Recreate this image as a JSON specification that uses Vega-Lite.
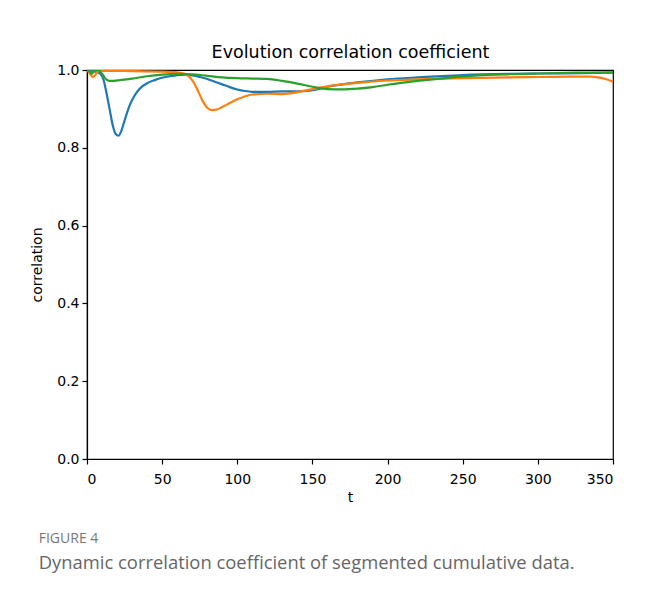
{
  "$schema": "https://vega.github.io/schema/vega-lite/v6.json",
  "width": 526,
  "height": 389,
  "autosize": "none",
  "padding": {"left": 87, "top": 70, "right": 33, "bottom": 133},
  "background": "white",
  "config": {
    "font": "DejaVu Sans",
    "view": {"stroke": "black", "strokeWidth": 1.2},
    "axis": {"grid": false, "domainColor": "black", "tickColor": "black", "labelColor": "black", "titleColor": "black", "labelFont": "DejaVu Sans", "titleFont": "DejaVu Sans", "labelFontSize": 14, "titleFontSize": 14, "titleFontWeight": "normal", "tickSize": 5, "domainWidth": 1.2, "tickWidth": 1.2}
  },
  "title": {
    "text": "FIGURE 4",
    "subtitle": "Dynamic correlation coefficient of segmented cumulative data.",
    "orient": "bottom",
    "anchor": "start",
    "frame": "bounds",
    "font": "Open Sans",
    "fontSize": 14,
    "fontWeight": "normal",
    "color": "#777777",
    "subtitleFont": "Open Sans",
    "subtitleFontSize": 18.4,
    "subtitleColor": "#666666",
    "subtitlePadding": 8,
    "offset": 28,
    "dx": 8
  },
  "data": {
    "values": [
      {"s": "a", "t": 0, "v": 1.0}, {"s": "a", "t": 3, "v": 0.998}, {"s": "a", "t": 6, "v": 0.995}, {"s": "a", "t": 9, "v": 0.99}, {"s": "a", "t": 11, "v": 0.975}, {"s": "a", "t": 13, "v": 0.94}, {"s": "a", "t": 15, "v": 0.9}, {"s": "a", "t": 17, "v": 0.86}, {"s": "a", "t": 19, "v": 0.836}, {"s": "a", "t": 21, "v": 0.831}, {"s": "a", "t": 23, "v": 0.845}, {"s": "a", "t": 25, "v": 0.87}, {"s": "a", "t": 28, "v": 0.905}, {"s": "a", "t": 31, "v": 0.93}, {"s": "a", "t": 35, "v": 0.952}, {"s": "a", "t": 40, "v": 0.966}, {"s": "a", "t": 45, "v": 0.974}, {"s": "a", "t": 50, "v": 0.98}, {"s": "a", "t": 55, "v": 0.984}, {"s": "a", "t": 60, "v": 0.987}, {"s": "a", "t": 65, "v": 0.988}, {"s": "a", "t": 70, "v": 0.986}, {"s": "a", "t": 75, "v": 0.982}, {"s": "a", "t": 80, "v": 0.977}, {"s": "a", "t": 85, "v": 0.97}, {"s": "a", "t": 90, "v": 0.963}, {"s": "a", "t": 95, "v": 0.956}, {"s": "a", "t": 100, "v": 0.95}, {"s": "a", "t": 105, "v": 0.946}, {"s": "a", "t": 110, "v": 0.944}, {"s": "a", "t": 120, "v": 0.944}, {"s": "a", "t": 130, "v": 0.945}, {"s": "a", "t": 140, "v": 0.945}, {"s": "a", "t": 148, "v": 0.947}, {"s": "a", "t": 155, "v": 0.952}, {"s": "a", "t": 160, "v": 0.957}, {"s": "a", "t": 170, "v": 0.963}, {"s": "a", "t": 180, "v": 0.968}, {"s": "a", "t": 200, "v": 0.976}, {"s": "a", "t": 220, "v": 0.981}, {"s": "a", "t": 250, "v": 0.987}, {"s": "a", "t": 280, "v": 0.99}, {"s": "a", "t": 300, "v": 0.991}, {"s": "a", "t": 330, "v": 0.992}, {"s": "a", "t": 350, "v": 0.993},
      {"s": "b", "t": 0, "v": 1.0}, {"s": "b", "t": 2, "v": 0.99}, {"s": "b", "t": 4, "v": 0.982}, {"s": "b", "t": 6, "v": 0.99}, {"s": "b", "t": 8, "v": 0.998}, {"s": "b", "t": 15, "v": 0.998}, {"s": "b", "t": 30, "v": 0.997}, {"s": "b", "t": 50, "v": 0.996}, {"s": "b", "t": 60, "v": 0.994}, {"s": "b", "t": 65, "v": 0.99}, {"s": "b", "t": 68, "v": 0.983}, {"s": "b", "t": 71, "v": 0.968}, {"s": "b", "t": 74, "v": 0.945}, {"s": "b", "t": 77, "v": 0.92}, {"s": "b", "t": 80, "v": 0.903}, {"s": "b", "t": 83, "v": 0.897}, {"s": "b", "t": 86, "v": 0.898}, {"s": "b", "t": 90, "v": 0.905}, {"s": "b", "t": 95, "v": 0.915}, {"s": "b", "t": 100, "v": 0.925}, {"s": "b", "t": 105, "v": 0.932}, {"s": "b", "t": 110, "v": 0.937}, {"s": "b", "t": 120, "v": 0.939}, {"s": "b", "t": 130, "v": 0.938}, {"s": "b", "t": 140, "v": 0.943}, {"s": "b", "t": 150, "v": 0.951}, {"s": "b", "t": 160, "v": 0.958}, {"s": "b", "t": 170, "v": 0.963}, {"s": "b", "t": 180, "v": 0.967}, {"s": "b", "t": 200, "v": 0.973}, {"s": "b", "t": 220, "v": 0.976}, {"s": "b", "t": 250, "v": 0.979}, {"s": "b", "t": 280, "v": 0.981}, {"s": "b", "t": 300, "v": 0.982}, {"s": "b", "t": 320, "v": 0.983}, {"s": "b", "t": 335, "v": 0.983}, {"s": "b", "t": 340, "v": 0.981}, {"s": "b", "t": 345, "v": 0.977}, {"s": "b", "t": 350, "v": 0.97},
      {"s": "c", "t": 0, "v": 1.0}, {"s": "c", "t": 2, "v": 0.995}, {"s": "c", "t": 3, "v": 0.99}, {"s": "c", "t": 5, "v": 0.998}, {"s": "c", "t": 7, "v": 1.0}, {"s": "c", "t": 9, "v": 0.995}, {"s": "c", "t": 11, "v": 0.985}, {"s": "c", "t": 13, "v": 0.975}, {"s": "c", "t": 15, "v": 0.972}, {"s": "c", "t": 18, "v": 0.972}, {"s": "c", "t": 22, "v": 0.974}, {"s": "c", "t": 30, "v": 0.978}, {"s": "c", "t": 40, "v": 0.984}, {"s": "c", "t": 50, "v": 0.988}, {"s": "c", "t": 60, "v": 0.99}, {"s": "c", "t": 70, "v": 0.989}, {"s": "c", "t": 80, "v": 0.985}, {"s": "c", "t": 90, "v": 0.981}, {"s": "c", "t": 100, "v": 0.979}, {"s": "c", "t": 110, "v": 0.978}, {"s": "c", "t": 120, "v": 0.977}, {"s": "c", "t": 130, "v": 0.972}, {"s": "c", "t": 140, "v": 0.965}, {"s": "c", "t": 150, "v": 0.957}, {"s": "c", "t": 160, "v": 0.951}, {"s": "c", "t": 170, "v": 0.95}, {"s": "c", "t": 180, "v": 0.952}, {"s": "c", "t": 190, "v": 0.956}, {"s": "c", "t": 200, "v": 0.962}, {"s": "c", "t": 220, "v": 0.972}, {"s": "c", "t": 240, "v": 0.98}, {"s": "c", "t": 260, "v": 0.986}, {"s": "c", "t": 280, "v": 0.989}, {"s": "c", "t": 300, "v": 0.991}, {"s": "c", "t": 325, "v": 0.993}, {"s": "c", "t": 350, "v": 0.994}
    ]
  },
  "resolve": {"axis": {"x": "independent"}},
  "layer": [
    {
      "transform": [{"filter": "datum.s !== 'c'"}],
      "mark": {"type": "line", "strokeWidth": 2.2, "interpolate": "monotone", "clip": true},
      "encoding": {
        "x": {"field": "t", "type": "quantitative", "scale": {"domain": [0, 350], "nice": false, "zero": false},
              "axis": {"orient": "bottom", "values": [0, 50, 100, 150, 200, 250, 300, 350], "title": "t", "labelPadding": 8, "titlePadding": 4}},
        "y": {"field": "v", "type": "quantitative", "scale": {"domain": [0, 1], "nice": false},
              "axis": {"values": [0, 0.2, 0.4, 0.6, 0.8, 1.0], "format": ".1f", "title": "correlation", "labelPadding": 3, "titlePadding": 12}},
        "color": {"field": "s", "type": "nominal", "scale": {"domain": ["a", "b", "c"], "range": ["#1f77b4", "#ff7f0e", "#2ca02c"]}, "legend": null},
        "detail": {"field": "s"}
      }
    },
    {
      "transform": [{"filter": "datum.s === 'c'"}],
      "mark": {"type": "line", "strokeWidth": 2.2, "interpolate": "monotone", "clip": true},
      "encoding": {
        "x": {"field": "t", "type": "quantitative",
              "axis": {"orient": "top", "domain": false, "ticks": false, "labels": false, "title": "Evolution correlation coefficient", "titleFontSize": 17.5, "titlePadding": 9}},
        "y": {"field": "v", "type": "quantitative"},
        "color": {"field": "s", "type": "nominal", "legend": null}
      }
    }
  ]
}
